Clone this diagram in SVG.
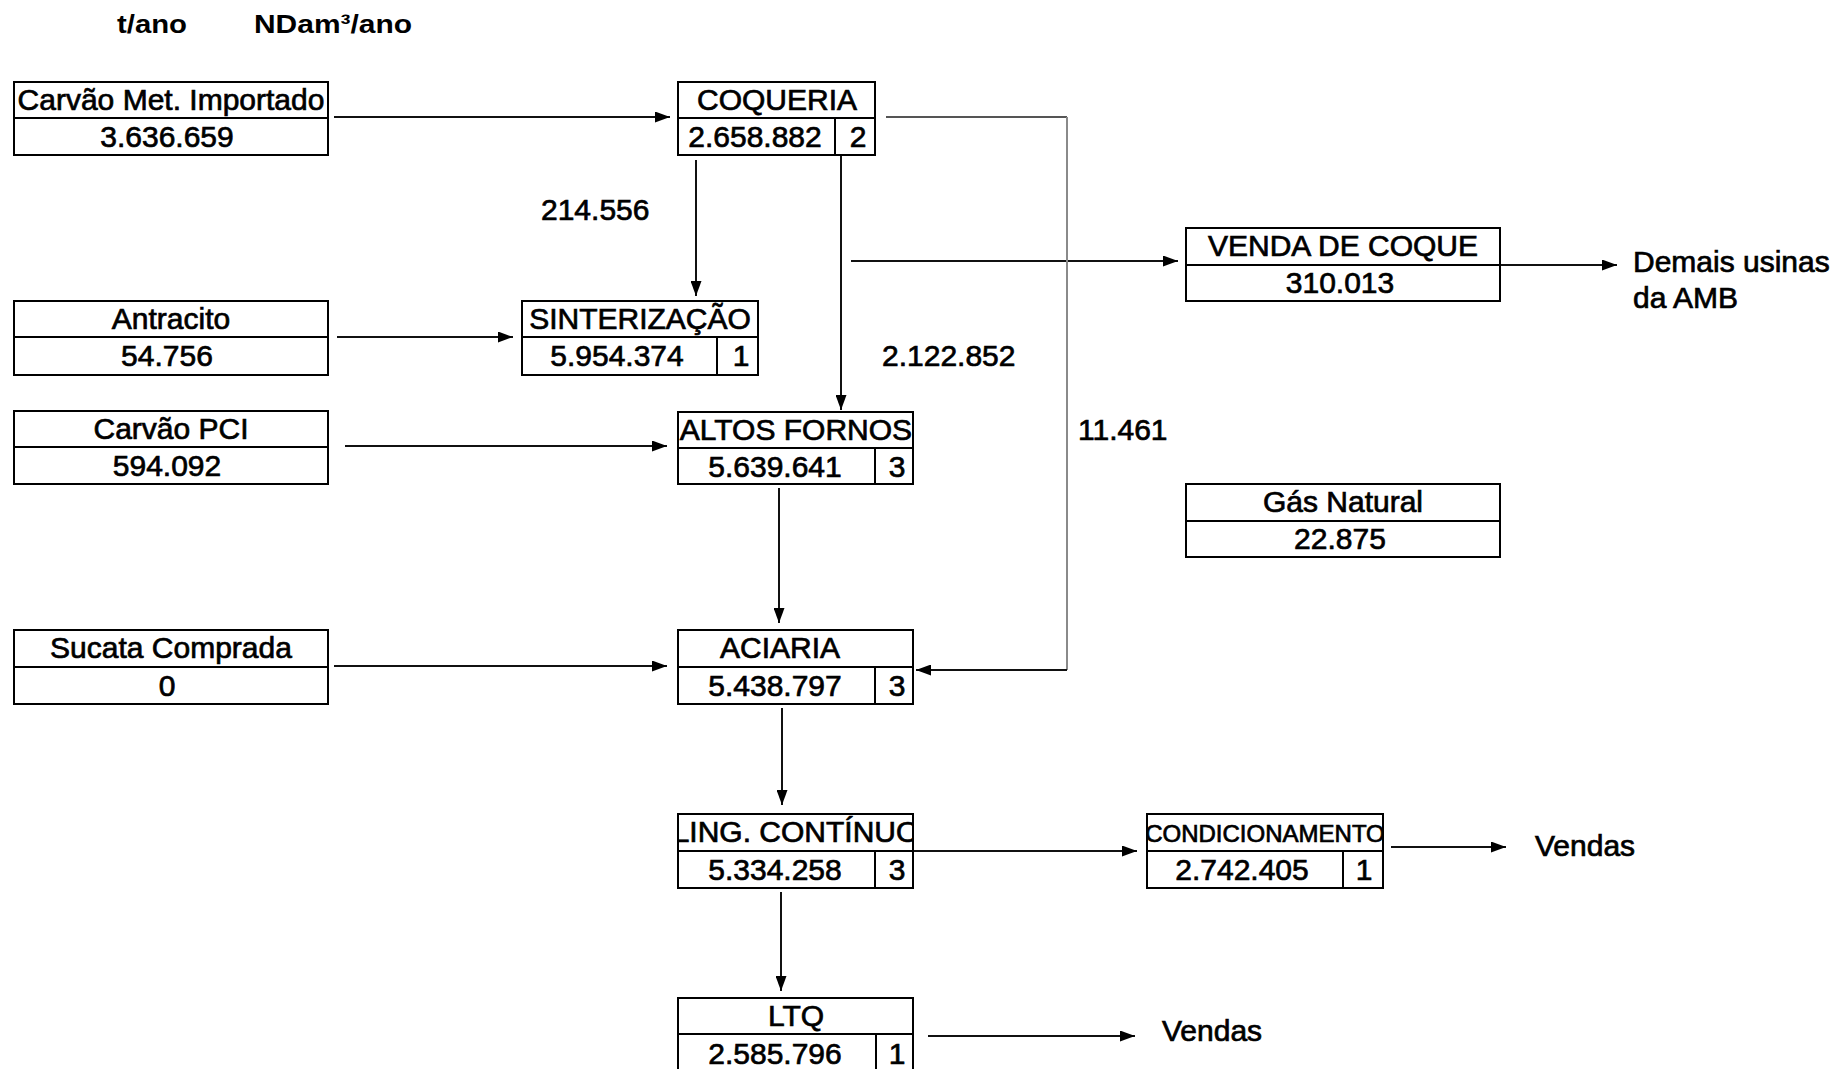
<svg xmlns="http://www.w3.org/2000/svg" width="1836" height="1069" viewBox="0 0 1836 1069">
<style>
.box{fill:#fff;stroke:#000;stroke-width:2}
.div{stroke:#000;stroke-width:2}
.t{font-family:"Liberation Sans",Arial,sans-serif;font-size:30px;fill:#000;stroke:#000;stroke-width:0.7;text-anchor:middle}
.l{font-family:"Liberation Sans",Arial,sans-serif;font-size:30px;fill:#000;stroke:#000;stroke-width:0.7}
.h{font-family:"Liberation Sans",Arial,sans-serif;font-size:25px;font-weight:bold;fill:#000}
.c{fill:none;stroke:#111;stroke-width:2;marker-end:url(#ah)}
</style>
<defs>
<marker id="ah" markerWidth="15" markerHeight="11" refX="15" refY="5.5" orient="auto" markerUnits="userSpaceOnUse">
<path d="M0,0 L15,5.5 L0,11 Z" fill="#000"/>
</marker>
<clipPath id="clipLing"><rect x="679" y="815" width="233" height="35"/></clipPath>
<clipPath id="clipCond"><rect x="1148" y="815" width="234" height="35"/></clipPath>
</defs>
<rect width="1836" height="1069" fill="#fff"/>

<g id="header">
<text class="h" x="117" y="33" textLength="70" lengthAdjust="spacingAndGlyphs">t/ano</text>
<text class="h" x="254" y="33" textLength="158" lengthAdjust="spacingAndGlyphs">NDam³/ano</text>
</g>

<g id="connectors">
<line class="c" x1="334" y1="117" x2="670" y2="117"/>
<line class="c" x1="696" y1="160" x2="696" y2="296"/>
<line class="c" x1="841" y1="155" x2="841" y2="410"/>
<line class="c" x1="851" y1="261" x2="1178" y2="261"/>
<line class="c" x1="1500" y1="265" x2="1617" y2="265"/>
<line class="c" x1="337" y1="337" x2="513" y2="337"/>
<line class="c" x1="345" y1="446" x2="667" y2="446"/>
<line class="c" x1="779" y1="488" x2="779" y2="623"/>
<line class="c" x1="334" y1="666" x2="667" y2="666"/>
<polyline points="886,117 1067,117" fill="none" stroke="#555" stroke-width="2"/>
<polyline points="1067,117 1067,670" fill="none" stroke="#8a8a8a" stroke-width="2"/>
<line class="c" x1="1067" y1="670" x2="916" y2="670"/>
<line class="c" x1="782" y1="708" x2="782" y2="805"/>
<line class="c" x1="913" y1="851" x2="1137" y2="851"/>
<line class="c" x1="1391" y1="847" x2="1506" y2="847"/>
<line class="c" x1="781" y1="892" x2="781" y2="991"/>
<line class="c" x1="928" y1="1036" x2="1135" y2="1036"/>
</g>

<g id="edge-labels">
<text class="l" x="541" y="220">214.556</text>
<text class="l" x="882" y="366">2.122.852</text>
<text class="l" x="1078" y="440">11.461</text>
<text class="l" x="1633" y="272">Demais usinas</text>
<text class="l" x="1633" y="308">da AMB</text>
<text class="l" x="1535" y="856">Vendas</text>
<text class="l" x="1162" y="1041">Vendas</text>
</g>

<g id="carvao-met">
<rect class="box" x="14" y="82" width="314" height="73"/>
<line class="div" x1="14" y1="118" x2="328" y2="118"/>
<text class="t" x="171" y="110">Carvão Met. Importado</text>
<text class="t" x="167" y="147">3.636.659</text>
</g>

<g id="coqueria">
<rect class="box" x="678" y="82" width="197" height="73"/>
<line class="div" x1="678" y1="118" x2="875" y2="118"/>
<line class="div" x1="835" y1="118" x2="835" y2="155"/>
<text class="t" x="777" y="110">COQUERIA</text>
<text class="t" x="755" y="147">2.658.882</text>
<text class="t" x="858" y="147">2</text>
</g>

<g id="antracito">
<rect class="box" x="14" y="301" width="314" height="74"/>
<line class="div" x1="14" y1="337" x2="328" y2="337"/>
<text class="t" x="171" y="329">Antracito</text>
<text class="t" x="167" y="366">54.756</text>
</g>

<g id="sinterizacao">
<rect class="box" x="522" y="301" width="236" height="74"/>
<line class="div" x1="522" y1="337" x2="758" y2="337"/>
<line class="div" x1="717" y1="337" x2="717" y2="375"/>
<text class="t" x="640" y="329">SINTERIZAÇÃO</text>
<text class="t" x="617" y="366">5.954.374</text>
<text class="t" x="741" y="366">1</text>
</g>

<g id="carvao-pci">
<rect class="box" x="14" y="411" width="314" height="73"/>
<line class="div" x1="14" y1="447" x2="328" y2="447"/>
<text class="t" x="171" y="439">Carvão PCI</text>
<text class="t" x="167" y="476">594.092</text>
</g>

<g id="altos-fornos">
<rect class="box" x="678" y="412" width="235" height="72"/>
<line class="div" x1="678" y1="448" x2="913" y2="448"/>
<line class="div" x1="875" y1="448" x2="875" y2="484"/>
<text class="t" x="796" y="440">ALTOS FORNOS</text>
<text class="t" x="775" y="477">5.639.641</text>
<text class="t" x="897" y="477">3</text>
</g>

<g id="venda-coque">
<rect class="box" x="1186" y="228" width="314" height="73"/>
<line class="div" x1="1186" y1="265" x2="1500" y2="265"/>
<text class="t" x="1343" y="256">VENDA DE COQUE</text>
<text class="t" x="1340" y="293">310.013</text>
</g>

<g id="gas-natural">
<rect class="box" x="1186" y="484" width="314" height="73"/>
<line class="div" x1="1186" y1="521" x2="1500" y2="521"/>
<text class="t" x="1343" y="512">Gás Natural</text>
<text class="t" x="1340" y="549">22.875</text>
</g>

<g id="sucata">
<rect class="box" x="14" y="630" width="314" height="74"/>
<line class="div" x1="14" y1="667" x2="328" y2="667"/>
<text class="t" x="171" y="658">Sucata Comprada</text>
<text class="t" x="167" y="696">0</text>
</g>

<g id="aciaria">
<rect class="box" x="678" y="630" width="235" height="74"/>
<line class="div" x1="678" y1="667" x2="913" y2="667"/>
<line class="div" x1="875" y1="667" x2="875" y2="704"/>
<text class="t" x="780" y="658">ACIARIA</text>
<text class="t" x="775" y="696">5.438.797</text>
<text class="t" x="897" y="696">3</text>
</g>

<g id="ling-continuo">
<rect class="box" x="678" y="814" width="235" height="74"/>
<line class="div" x1="678" y1="851" x2="913" y2="851"/>
<line class="div" x1="875" y1="851" x2="875" y2="888"/>
<text class="t" x="796" y="842" clip-path="url(#clipLing)">LING. CONTÍNUO</text>
<text class="t" x="775" y="880">5.334.258</text>
<text class="t" x="897" y="880">3</text>
</g>

<g id="condicionamento">
<rect class="box" x="1147" y="814" width="236" height="74"/>
<line class="div" x1="1147" y1="851" x2="1383" y2="851"/>
<line class="div" x1="1343" y1="851" x2="1343" y2="888"/>
<text class="t" x="1265" y="842" style="font-size:24px" clip-path="url(#clipCond)">CONDICIONAMENTO</text>
<text class="t" x="1242" y="880">2.742.405</text>
<text class="t" x="1364" y="880">1</text>
</g>

<g id="ltq">
<rect class="box" x="678" y="998" width="235" height="80"/>
<line class="div" x1="678" y1="1034" x2="913" y2="1034"/>
<line class="div" x1="876" y1="1034" x2="876" y2="1069"/>
<text class="t" x="796" y="1026">LTQ</text>
<text class="t" x="775" y="1064">2.585.796</text>
<text class="t" x="897" y="1064">1</text>
</g>
</svg>
